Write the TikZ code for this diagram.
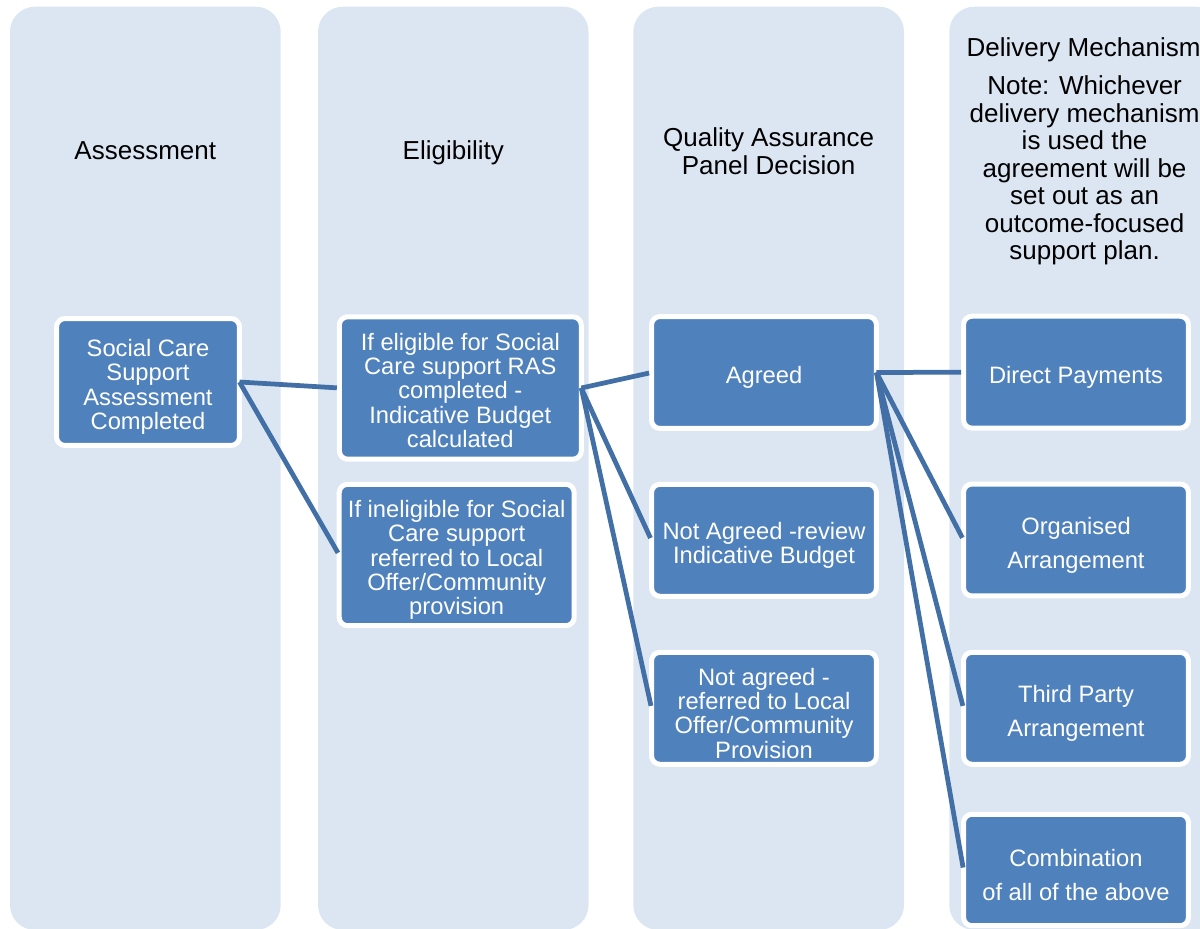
\documentclass[tikz,border=0pt]{standalone}
\usepackage{fontspec}
\setmainfont{Liberation Sans}
\definecolor{colfill}{HTML}{DCE6F2}
\definecolor{boxfill}{HTML}{4F81BD}
\definecolor{connblue}{HTML}{416FA6}
\begin{document}
\begin{tikzpicture}[x=0.02cm,y=-0.02cm,
  column/.style={fill=colfill, draw=none, rounded corners=0.5cm},
  box/.style={fill=boxfill, draw=white, line width=0.1cm, rounded corners=0.17cm,
    outer sep=0pt, inner sep=0pt, minimum width=4.5cm, minimum height=2.24cm},
  boxtext/.style={text=white, align=center, inner sep=0pt, yshift=-0.1cm,
    font=\fontsize{13.5pt}{13.9pt}\selectfont},
  boxtextwide/.style={text=white, align=center, inner sep=0pt, yshift=-0.1cm,
    font=\fontsize{13.5pt}{19.5pt}\selectfont},
  heading/.style={text=black, align=center, inner sep=0pt,
    font=\fontsize{14.8pt}{15.65pt}\selectfont},
  connector/.style={draw=connblue, line width=0.095cm, shorten >=0.05cm}]
\useasboundingbox (0,0) rectangle (1200,929);
\clip (0,0) rectangle (1200,929);
% columns
\path[column] (10,6.7) rectangle (280.7,930);
\path[column] (318,6.7) rectangle (588.5,930);
\path[column] (633.3,6.7) rectangle (904,930);
\path[column] (949.3,6.7) rectangle (1220,930);
% headings
\node[heading, anchor=base] (hA) at (145.3,159.3) {Assessment};
\node[heading, anchor=base] (hB) at (453.3,159.3) {Eligibility};
\node[heading, anchor=north] (hC) at (768.6,127.4) {Quality Assurance\\Panel Decision};
\node[heading, anchor=base] (hD) at (1083.6,56.7) {Delivery Mechanism};
\node[heading, anchor=north] (hN) at (1084.6,75.7) {Note: Whichever\\delivery mechanism\\is used the\\agreement will be\\set out as an\\outcome-focused\\support plan.};
% boxes
\node[box, minimum width=3.66cm, minimum height=2.54cm,
  label={[boxtext]center:{Social Care\\Support\\Assessment\\Completed}}] (A) at (148,382) {};
\node[box, minimum width=4.84cm, minimum height=2.85cm,
  label={[boxtext, yshift=0.05cm]center:{If eligible for Social\\Care support RAS\\completed -\\Indicative Budget\\calculated}}] (B) at (460.3,388) {};
\node[box, minimum width=4.7cm, minimum height=2.83cm,
  label={[boxtext]center:{If ineligible for Social\\Care support\\referred to Local\\Offer/Community\\provision}}] (C) at (456.7,555) {};
\node[box, label={[boxtext]center:{Agreed}}] (D) at (764,372.5) {};
\node[box, label={[boxtext]center:{Not Agreed -review\\Indicative Budget}}] (E) at (764,540.3) {};
\node[box, label={[boxtext]center:{Not agreed -\\referred to Local\\Offer/Community\\Provision}}] (F) at (764,708.3) {};
\node[box, label={[boxtext]center:{Direct Payments}}] (G) at (1076,372.2) {};
\node[box, label={[boxtextwide]center:{Organised\\Arrangement}}] (H) at (1076,540) {};
\node[box, label={[boxtextwide]center:{Third Party\\Arrangement}}] (I) at (1076,708.3) {};
\node[box, minimum height=2.23cm, label={[boxtextwide]center:{Combination\\of all of the above}}] (J) at (1076,870) {};
% connectors
\draw[connector] (A.east) -- (B.west);
\draw[connector] (A.east) -- (C.west);
\draw[connector] (B.east) -- (D.west);
\draw[connector] (B.east) -- (E.west);
\draw[connector] (B.east) -- (F.west);
\draw[connector] (D.east) -- (G.west);
\draw[connector] (D.east) -- (H.west);
\draw[connector] (D.east) -- (I.west);
\draw[connector] (D.east) -- (J.west);
\end{tikzpicture}
\end{document}
